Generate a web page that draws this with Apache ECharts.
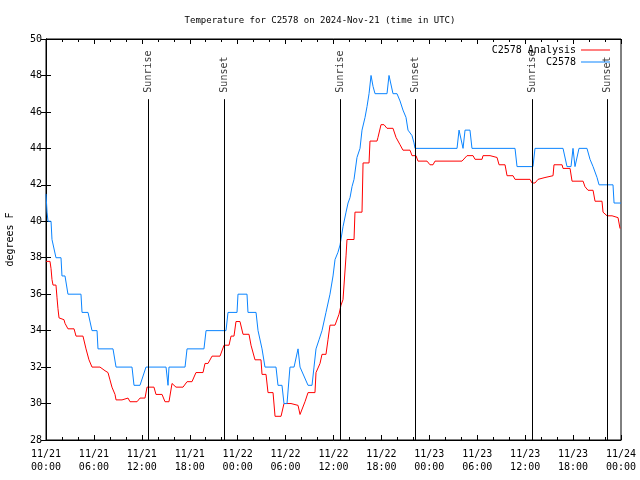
<!DOCTYPE html>
<html><head><meta charset="utf-8">
<script src="https://cdn.jsdelivr.net/npm/echarts@6/dist/echarts.min.js"></script>
<style>html,body{margin:0;padding:0;background:#fff}#c{width:640px;height:480px}</style>
</head><body><div id="c"></div>
<script>
const titleText = 'Temperature for C2578 on 2024-Nov-21 (time in UTC)';
const yAxisName = 'degrees F';
const xTickLabels = ['11/21\n00:00','11/21\n06:00','11/21\n12:00','11/21\n18:00',
  '11/22\n00:00','11/22\n06:00','11/22\n12:00','11/22\n18:00',
  '11/23\n00:00','11/23\n06:00','11/23\n12:00','11/23\n18:00','11/24\n00:00'];
// hours since 2024-11-21 00:00 UTC
const analysisHours = [0.00,0.50,0.63,0.75,0.88,1.25,1.38,1.50,1.63,1.75,2.25,2.38,2.63,2.75,3.51,3.76,4.63,5.01,5.38,5.76,
  6.76,7.39,7.76,8.01,8.26,8.64,8.77,9.52,9.64,10.27,10.52,11.40,11.77,12.40,12.65,13.52,13.77,14.53,14.90,15.40,
  15.78,16.28,17.16,17.66,18.28,18.78,19.66,19.91,20.29,20.79,21.79,22.29,22.92,23.17,23.54,23.79,24.29,24.67,25.42,25.67,
  26.17,26.92,27.05,27.55,27.80,28.43,28.68,29.43,29.80,30.68,30.93,31.56,31.81,32.06,32.43,32.81,33.68,33.81,34.06,34.31,
  34.56,35.06,35.31,35.56,36.19,36.69,36.94,37.19,37.44,37.57,37.69,38.57,38.69,39.57,39.70,40.45,40.57,41.45,41.57,41.95,
  42.32,42.70,43.45,43.83,44.33,44.70,45.58,45.83,46.33,46.58,47.71,48.08,48.46,48.71,51.59,52.09,52.72,53.47,53.72,54.60,
  54.72,55.60,55.85,56.48,56.73,57.48,57.73,58.48,58.73,60.61,60.86,61.23,61.61,61.86,62.48,62.61,63.49,63.61,64.62,64.74,
  65.62,65.87,67.25,67.49,67.74,67.87,68.50,68.75,69.62,69.75,70.00,70.25,70.88,71.00,71.63,71.88];
const analysisTemps = [37.8,37.8,37.4,36.8,36.5,36.5,35.8,35.2,34.7,34.6,34.6,34.4,34.4,34.1,34.1,33.7,33.7,33.0,32.4,32.0,
  32.0,31.8,31.7,31.3,30.9,30.5,30.2,30.2,30.3,30.3,30.1,30.1,30.3,30.3,30.9,30.9,30.5,30.5,30.1,30.1,
  31.1,30.9,30.9,31.2,31.2,31.7,31.7,32.2,32.2,32.6,32.6,33.2,33.2,33.7,33.7,34.5,34.5,33.8,33.8,33.2,
  32.4,32.4,31.6,31.6,30.6,30.6,29.3,29.3,30.0,30.0,29.9,29.9,29.4,29.4,30.1,30.6,30.6,31.7,31.7,32.2,
  32.7,32.7,33.5,34.3,34.3,34.9,35.4,35.7,35.7,38.1,39.0,39.0,40.5,40.5,43.2,43.2,44.4,44.4,44.6,45.3,
  45.3,45.1,45.1,44.6,44.2,43.9,43.9,43.6,43.6,43.3,43.3,43.1,43.1,43.3,43.3,43.3,43.6,43.6,43.4,43.4,
  43.6,43.6,43.5,43.5,43.1,43.1,42.5,42.5,42.3,42.3,42.1,42.1,42.3,42.4,42.4,42.5,42.5,43.1,43.1,42.9,
  42.9,42.2,42.2,41.9,41.9,41.7,41.7,41.1,41.1,40.5,40.5,40.3,40.3,40.2,40.2,39.6];
const stationHours = [0.00,0.13,0.25,0.63,0.75,1.25,1.88,2.00,2.38,2.75,4.38,4.51,5.26,5.76,6.39,6.51,8.39,8.77,10.77,11.02,
  11.77,12.52,15.03,15.28,15.40,17.41,17.66,19.78,20.04,22.54,22.79,23.92,24.04,25.17,25.29,26.30,26.55,27.05,27.42,28.80,
  29.05,29.55,29.80,30.18,30.55,31.06,31.56,31.81,32.06,32.81,33.31,33.56,33.81,34.19,34.56,35.06,35.56,35.94,36.19,36.56,
  36.82,37.19,37.57,37.82,38.07,38.32,38.57,38.94,39.32,39.57,39.95,40.20,40.45,40.70,40.82,40.95,41.20,42.70,42.95,43.20,
  43.45,43.95,44.33,44.70,45.08,45.33,45.83,46.08,46.21,51.47,51.72,51.97,52.22,52.47,53.09,53.34,58.73,58.98,60.98,61.23,
  64.74,65.24,65.74,65.99,66.24,66.74,67.74,68.12,68.50,69.00,69.25,71.00,71.13,72.00];
const stationTemps = [41.5,40.5,40.0,40.0,39.0,38.0,38.0,37.0,37.0,36.0,36.0,35.0,35.0,34.0,34.0,33.0,33.0,32.0,32.0,31.0,
  31.0,32.0,32.0,31.0,32.0,32.0,33.0,33.0,34.0,34.0,35.0,35.0,36.0,36.0,35.0,35.0,34.0,33.0,32.0,32.0,
  31.0,31.0,30.0,30.0,32.0,32.0,33.0,32.0,32.0,31.0,31.0,32.0,33.0,33.5,34.0,35.0,36.0,37.0,37.9,38.3,
  38.7,39.7,40.5,41.0,41.3,41.9,42.3,43.5,44.0,45.0,45.7,46.3,47.0,48.0,48.0,47.4,47.0,47.0,48.0,48.0,
  47.0,47.0,46.6,46.1,45.7,45.0,44.7,44.3,44.0,44.0,45.0,45.0,44.0,45.0,45.0,44.0,44.0,43.0,43.0,44.0,
  44.0,43.0,43.0,44.0,43.0,44.0,44.0,43.4,43.0,42.4,42.0,42.0,41.0,41.0];
const sunHours = [12.81, 22.33, 36.82, 46.25, 60.90, 70.30];
const sunNames = ['Sunrise','Sunset','Sunrise','Sunset','Sunrise','Sunset'];
const sunLineTop = 46.7;
const yMin = 28, yMax = 50, yStep = 2;
const xMin = 0, xMax = 72, xStep = 6;

const FONT = 'DejaVu Sans Mono';
const zip = (a, b) => a.map((v, i) => [v, b[i]]);

const chart = echarts.init(document.getElementById('c'), null, {renderer: 'canvas'});
const baseX = {
  type: 'value', min: xMin, max: xMax, interval: xStep,
  axisLine: {show: true, lineStyle: {color: '#000', width: 1}},
  axisTick: {show: true, inside: true, length: 5, lineStyle: {color: '#000'}},
  minorTick: {show: true, splitNumber: 3, length: 3, lineStyle: {color: '#000'}},
  splitLine: {show: false}
};
const baseY = {
  type: 'value', min: yMin, max: yMax, interval: yStep,
  axisLine: {show: true, lineStyle: {color: '#000', width: 1}},
  axisTick: {show: true, inside: true, length: 5, lineStyle: {color: '#000'}},
  splitLine: {show: false}
};
const legendBase = {right: 30, align: 'right', padding: 0, itemWidth: 29, itemHeight: 1, icon: 'rect',
  textStyle: {fontFamily: FONT, fontSize: 10, color: '#000'}};
chart.setOption({
  animation: false,
  backgroundColor: '#fff',
  title: {
    text: titleText, left: 'center', top: 11,
    textStyle: {fontFamily: FONT, fontSize: 9, fontWeight: 'normal', color: '#000'}
  },
  grid: {left: 46, right: 19, top: 39, bottom: 40, show: true, borderColor: '#000', borderWidth: 1,
    containLabel: false, outerBoundsMode: 'none'},
  legend: [
    Object.assign({data: ['C2578 Analysis'], top: 45}, legendBase),
    Object.assign({data: ['C2578'], top: 57}, legendBase)
  ],
  xAxis: [
    Object.assign({}, baseX, {
      position: 'bottom',
      axisLabel: {show: true, margin: 8, fontFamily: FONT, fontSize: 10, color: '#000', lineHeight: 13,
        formatter: v => xTickLabels[Math.round((v - xMin) / xStep)]}
    }),
    Object.assign({}, baseX, {position: 'top', axisLabel: {show: false}})
  ],
  yAxis: [
    Object.assign({}, baseY, {
      position: 'left',
      name: yAxisName, nameLocation: 'middle', nameGap: 31,
      nameTextStyle: {fontFamily: FONT, fontSize: 10, color: '#000'},
      axisLabel: {show: true, margin: 4, fontFamily: FONT, fontSize: 10, color: '#000'}
    }),
    Object.assign({}, baseY, {position: 'right', axisLabel: {show: false}})
  ],
  series: [
    {
      name: 'C2578 Analysis', type: 'line', data: zip(analysisHours, analysisTemps),
      symbol: 'none', showSymbol: false, color: '#ff0000',
      lineStyle: {color: '#ff0000', width: 1}, z: 3
    },
    {
      name: 'C2578', type: 'line', data: zip(stationHours, stationTemps),
      symbol: 'none', showSymbol: false, color: '#0a84ff',
      lineStyle: {color: '#0a84ff', width: 1}, z: 3
    },
    {
      name: 'sun', type: 'scatter', z: 4,
      data: sunHours.map((h, i) => ({value: [h, sunLineTop], name: sunNames[i]})),
      symbolSize: 1, itemStyle: {color: 'rgba(0,0,0,0)'},
      label: {show: true, formatter: '{b}', position: 'top', distance: 6, rotate: 90,
        align: 'left', verticalAlign: 'middle', fontFamily: FONT, fontSize: 10, color: '#000'},
      markLine: {
        silent: true, symbol: 'none', animation: false,
        lineStyle: {color: '#000', width: 1, type: 'solid'},
        label: {show: false},
        emphasis: {disabled: true},
        data: sunHours.map(h => [{coord: [h, sunLineTop]}, {coord: [h, yMin]}])
      }
    }
  ]
});
</script>
</body></html>
